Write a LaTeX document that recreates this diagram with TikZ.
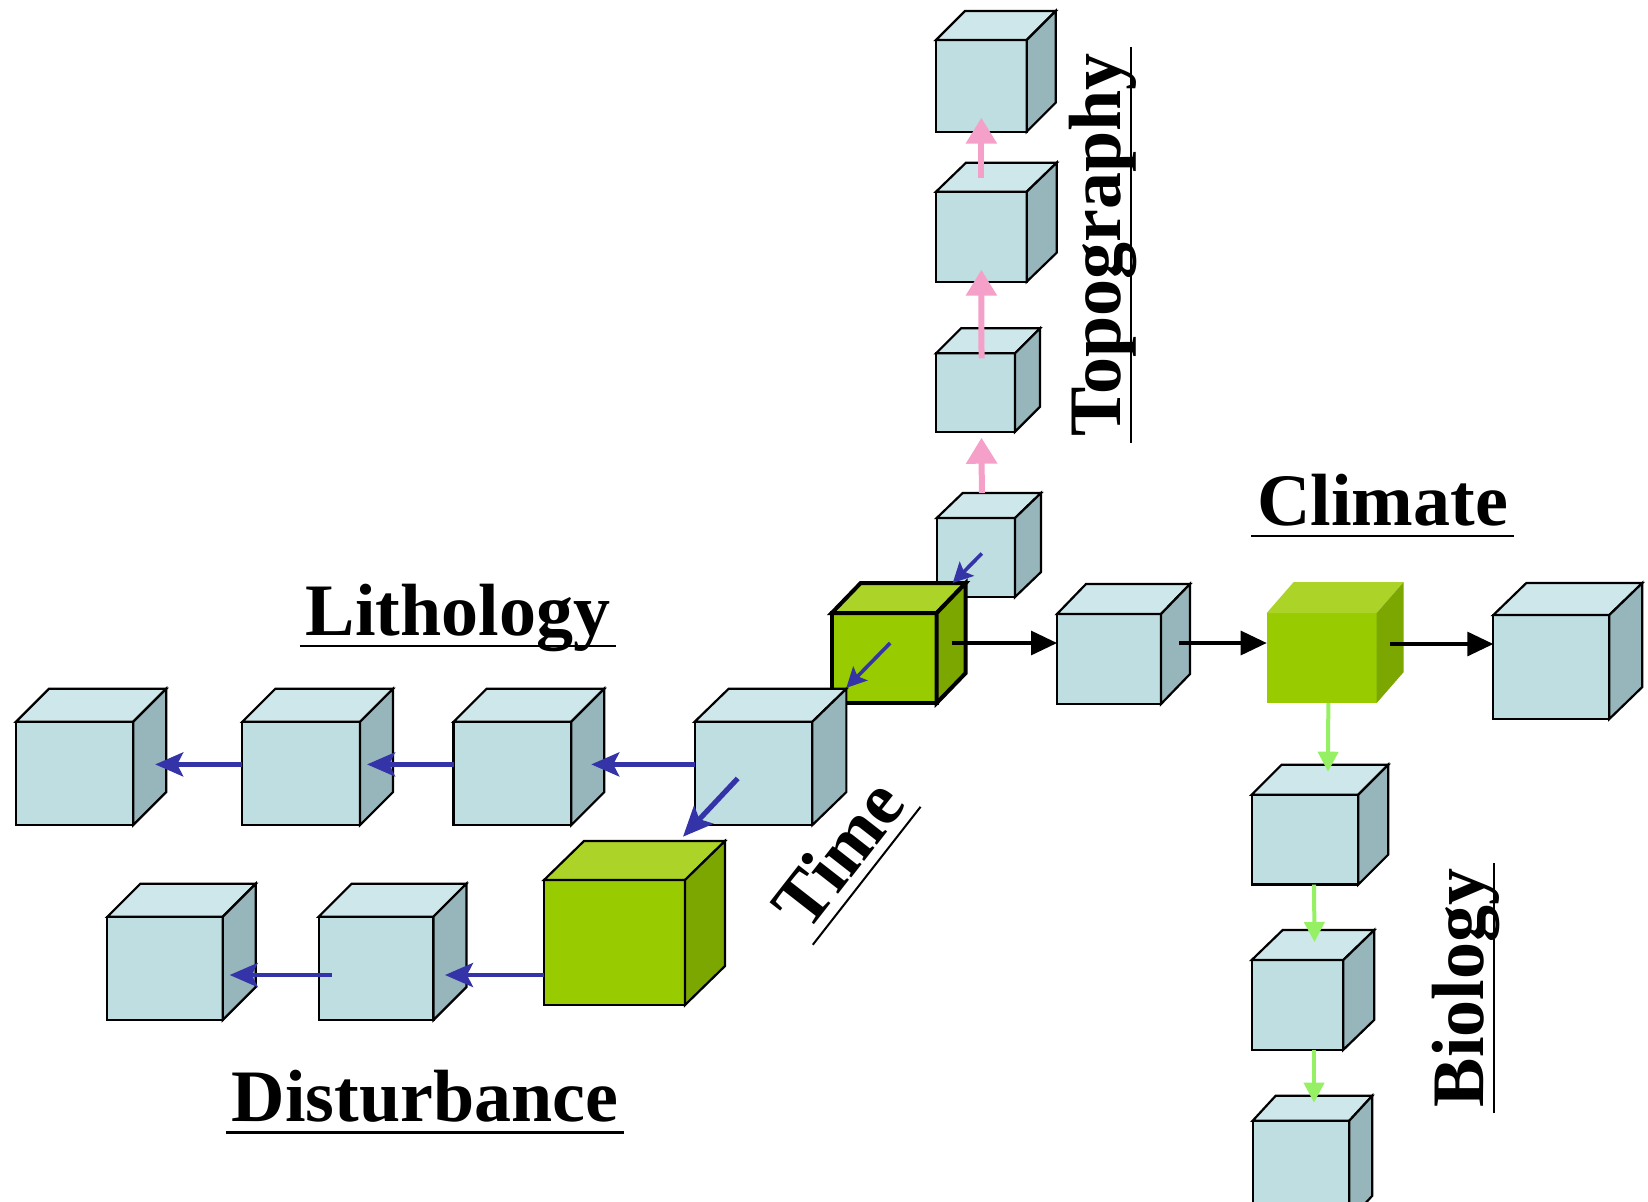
\documentclass[tikz,border=0pt]{standalone}
\usepackage{fontspec}
\setmainfont{Liberation Serif}
\usetikzlibrary{arrows.meta,calc}
\definecolor{cbfront}{RGB}{190,222,226}
\definecolor{cbtop}{RGB}{206,231,234}
\definecolor{cbside}{RGB}{150,182,187}
\definecolor{cgfront}{RGB}{153,204,0}
\definecolor{cgtop}{RGB}{172,212,40}
\definecolor{cgside}{RGB}{124,166,0}
\definecolor{arrblue}{RGB}{52,52,168}
\definecolor{arrpink}{RGB}{245,160,200}
\definecolor{arrgreen}{RGB}{150,240,100}
\newcommand\cubeblock[9]{%
  \node[cubeface,#9,fill=#8front,minimum width=#4*0.5pt,minimum height=#5*0.5pt] (#1) at (#2,#3) {};
  \path[cubeface,#9,fill=#8top] (#1.north west) -- ++(#6,-#7) -- ++(#4,0) -- (#1.north east) -- cycle;
  \path[cubeface,#9,fill=#8side] (#1.north east) -- ++(#6,-#7) -- ++(0,#5) -- (#1.south east) -- cycle;
}
\begin{document}
\begin{tikzpicture}[x=0.5pt,y=-0.5pt,
  cubeface/.style={draw=black,line width=1.1pt,line join=miter,inner sep=0pt,outer sep=0pt,rectangle},
  thickface/.style={line width=2pt},
  noface/.style={draw=none},
  lbl/.style={font=\fontsize{37}{40}\selectfont\bfseries,inner sep=0pt,outer sep=0pt,text=black},
  uline/.style={draw=black,line width=1.3pt,shorten <=-3pt,shorten >=-3pt},
  bluearr/.style={draw=arrblue,line width=2.2pt,-{Stealth[length=14pt,width=12pt,inset=3pt]}},
  bluebig/.style={draw=arrblue,line width=2.6pt,-{Stealth[length=15pt,width=13pt,inset=3pt]}},
  bluesmall/.style={draw=arrblue,line width=1.8pt,-{Stealth[length=10pt,width=10pt,inset=2pt]}},
  blackarr/.style={draw=black,line width=1.6pt,-{Triangle[length=13pt,width=12pt]}},
  pinkarr/.style={draw=arrpink,line width=3pt,-{Triangle[length=13pt,width=15pt]}},
  greenarr/.style={draw=arrgreen,line width=2pt,-{Triangle[length=10pt,width=10pt]}}
]
\useasboundingbox (0,0) rectangle (1648,1201);
\fill[white] (0,0) rectangle (1648,1201);
\clip (0,0) rectangle (1648,1201);

% Topography column
\cubeblock{T4}{981.35}{85.85}{90.7}{91.7}{29}{29}{cb}{}
\cubeblock{T3}{981.35}{236.7}{90.7}{90}{30}{29}{cb}{}
\cubeblock{T2}{975.5}{392.5}{79}{78.4}{25}{25}{cb}{}
\cubeblock{T1}{975.85}{557.5}{78.3}{79}{26}{25}{cb}{}
% centre
\cubeblock{G1}{884.2}{658}{105}{90}{29}{30}{cg}{thickface}
% Climate row
\cubeblock{C1}{1109}{659}{104}{90}{29}{30}{cb}{}
\cubeblock{C2}{1321.7}{658}{110}{90}{27}{31}{cg}{noface}
\cubeblock{C3}{1551.3}{667}{116}{104}{33}{32}{cb}{}
% Lithology row
\cubeblock{L4}{74.6}{773.4}{117.2}{103.3}{33}{33}{cb}{}
\cubeblock{L3}{301.2}{773.4}{117.7}{103.3}{33}{33}{cb}{}
\cubeblock{L2}{512.4}{773.4}{117.7}{103.3}{33}{33}{cb}{}
\cubeblock{L1}{753.5}{773.4}{117.7}{103.3}{34}{33}{cb}{}
% Disturbance row
\cubeblock{G2}{614.5}{942.5}{141}{125}{40}{39}{cg}{}
\cubeblock{D1}{376}{968.4}{114.8}{103.3}{33}{33}{cb}{}
\cubeblock{D2}{165}{968.4}{115.4}{103.3}{33}{33}{cb}{}
% Biology column
\cubeblock{B1}{1305}{839.6}{106.6}{89.8}{30}{30}{cb}{}
\cubeblock{B2}{1297.5}{1004.9}{91.6}{89.8}{31}{30}{cb}{}
\cubeblock{B3}{1301}{1170.7}{96.6}{100}{23}{25}{cb}{}

% arrows
\draw[pinkarr] ($(T1.north)+(6,-25)$) -- ($(T2.south)+(6,6)$);
\draw[pinkarr] ($(T2.north)+(6,5)$) -- ($(T3.south)+(0,-12)$);
\draw[pinkarr] ($(T3.north)+(0,-14)$) -- ($(T4.south)+(0,-14)$);

\draw[bluesmall] ($(T1.center)+(6,-4)$) -- ($(G1.north east)+(16,-30)$);
\draw[bluesmall] ($(G1.center)+(6,-15)$) -- ($(L1.north east)+(34,-34)$);

\draw[blackarr] ($(G1.east)+(15,-15)$) -- ($(C1.west)+(0,-16)$);
\draw[blackarr] ($(C1.east)+(18,-16)$) -- ($(C2.west)+(0,-15)$);
\draw[blackarr] ($(C2.east)+(13,-14)$) -- ($(C3.west)+(0,-23)$);

\draw[greenarr] ($(C2.south)+(6.6,0)$) -- ($(B1.north)+(23,-23)$);
\draw[greenarr] ($(B1.south)+(9,0)$) -- ($(B2.north)+(17,-18)$);
\draw[greenarr] ($(B2.south)+(16.5,0)$) -- ($(B3.north)+(13,-18)$);

\draw[bluearr] ($(L1.west)+(0,-9)$) -- ($(L2.east)+(20,-9)$);
\draw[bluearr] ($(L2.west)+(0,-9)$) -- ($(L3.east)+(7,-9)$);
\draw[bluearr] ($(L3.west)+(0,-9)$) -- ($(L4.east)+(22,-9)$);

\draw[bluebig] ($(L1.center)+(-15.8,5)$) -- ($(G2.north east)+(-2,-43.3)$);

\draw[bluearr] ($(G2.west)+(0,32.5)$) -- ($(D1.east)+(11.6,6.6)$);
\draw[bluearr] ($(D1.west)+(13,6.6)$) -- ($(D2.east)+(7,6.6)$);

% labels
\node[lbl,anchor=base] (lith) at (458,635) {Lithology};
\node[lbl,anchor=base] (dist) at (425,1121.7) {Disturbance};
\node[lbl,anchor=base] (clim) at (1382.5,525) {Climate};
\node[lbl,anchor=base,rotate=90] (topo) at (1120,245) {Topography};
\node[lbl,anchor=base,rotate=90] (bio) at (1483,988) {Biology};
\node[lbl,anchor=base,rotate=52] (time) at (858,869) {Time};

\foreach \n in {lith,dist,clim,topo,bio}{
  \draw[uline] ($(\n.base west)!5.5pt!-90:(\n.base east)$) -- ($(\n.base east)!5.5pt!90:(\n.base west)$);
}
\draw[uline,line width=1pt] ($(time.base west)!5.5pt!-90:(time.base east)$) -- ($(time.base east)!5.5pt!90:(time.base west)$);
\end{tikzpicture}
\end{document}
